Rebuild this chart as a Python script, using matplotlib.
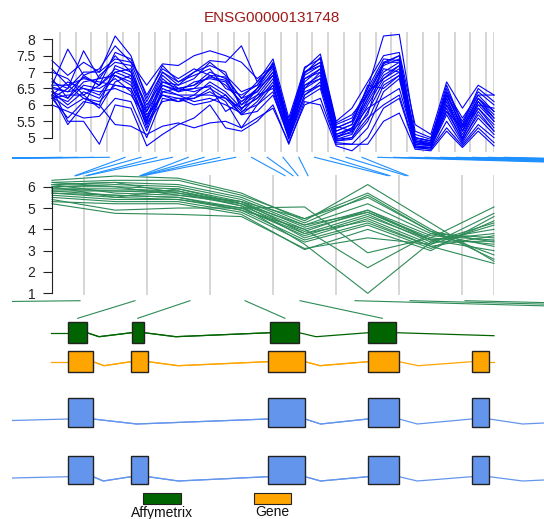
import matplotlib
matplotlib.use("Agg")
import matplotlib.pyplot as plt
from matplotlib.patches import Rectangle
import numpy as np

plt.rcParams['font.family'] = ['Liberation Sans', 'DejaVu Sans']

title = "ENSG00000131748"

# ---- top panel: probe-level intensities (20 samples x 29 probes)
probe_values = [
    [7.35, 6.9, 7.3, 7.0, 8.1, 7.5, 6.2, 7.2, 6.7, 7.0, 7.35, 7.3, 7.8, 6.7, 7.4, 5.6, 7.1, 7.55, 5.5, 5.9, 6.7, 7.5, 7.6, 5.4, 5.1, 6.7, 5.9, 6.6, 6.3],
    [6.6, 7.7, 6.9, 7.1, 7.8, 7.3, 6.6, 7.25, 7.2, 7.5, 7.65, 7.5, 7.3, 6.8, 7.2, 5.5, 7.0, 7.3, 5.4, 5.6, 6.5, 8.1, 8.15, 5.2, 5.0, 6.4, 5.6, 6.3, 6.3],
    [6.2, 6.5, 7.65, 6.8, 7.5, 7.0, 5.9, 7.0, 6.6, 6.8, 7.3, 6.9, 6.4, 6.6, 7.2, 5.4, 7.0, 7.3, 5.3, 5.5, 6.4, 7.3, 7.5, 5.0, 4.9, 6.5, 5.4, 6.3, 5.8],
    [6.3, 5.4, 6.0, 6.9, 7.3, 7.2, 5.8, 6.9, 6.5, 6.6, 7.0, 6.8, 6.2, 6.4, 7.0, 5.3, 6.9, 7.2, 5.2, 5.4, 6.3, 7.2, 7.4, 4.95, 4.85, 6.3, 5.3, 6.2, 5.7],
    [6.8, 6.2, 6.9, 6.6, 7.1, 6.9, 5.6, 6.8, 6.4, 6.5, 6.9, 6.6, 6.1, 6.5, 7.1, 5.25, 6.8, 7.0, 5.1, 5.3, 6.2, 7.0, 7.3, 4.9, 4.8, 6.2, 5.2, 6.1, 5.6],
    [6.5, 6.4, 6.5, 6.3, 7.0, 6.8, 5.5, 6.6, 6.4, 6.7, 6.8, 6.7, 6.0, 6.3, 6.9, 5.2, 6.7, 7.1, 5.0, 5.2, 6.1, 6.9, 7.2, 4.85, 4.8, 6.1, 5.1, 6.0, 5.5],
    [6.4, 6.0, 6.4, 6.2, 6.9, 6.7, 5.3, 6.5, 6.3, 6.3, 6.7, 6.4, 5.9, 6.2, 6.8, 5.1, 6.6, 6.9, 4.95, 5.1, 6.0, 6.8, 7.1, 4.8, 4.75, 6.0, 5.0, 5.9, 5.3],
    [6.6, 6.6, 6.8, 6.7, 6.6, 6.5, 5.4, 6.4, 6.5, 6.4, 6.6, 6.3, 5.8, 6.0, 6.6, 5.0, 6.5, 6.8, 4.9, 5.0, 5.8, 6.7, 7.0, 4.75, 4.7, 5.9, 4.9, 5.8, 5.2],
    [6.2, 6.3, 6.3, 5.9, 6.7, 6.9, 5.7, 6.3, 6.2, 6.2, 6.5, 6.2, 5.7, 6.1, 6.7, 5.3, 6.4, 6.6, 5.2, 5.4, 6.6, 6.5, 6.9, 4.9, 4.85, 5.8, 5.3, 6.0, 5.9],
    [7.1, 6.6, 6.2, 6.0, 7.2, 7.0, 6.0, 6.7, 6.6, 7.0, 7.2, 7.0, 5.85, 6.5, 7.3, 5.35, 7.15, 7.4, 5.35, 5.2, 5.7, 7.3, 7.3, 5.0, 4.9, 6.3, 5.5, 6.4, 6.0],
    [6.3, 6.1, 6.6, 6.5, 6.8, 6.4, 5.2, 6.4, 6.3, 6.1, 6.2, 6.0, 5.75, 6.3, 6.5, 5.0, 6.3, 6.7, 4.9, 4.95, 5.5, 6.6, 6.9, 4.7, 4.7, 5.7, 4.85, 5.6, 5.1],
    [6.0, 5.8, 5.6, 5.65, 6.2, 6.1, 5.0, 6.2, 6.1, 6.2, 6.4, 6.1, 5.3, 6.0, 6.4, 4.95, 6.2, 6.5, 4.8, 4.8, 5.3, 6.4, 6.8, 4.7, 4.65, 5.5, 4.8, 5.4, 5.0],
    [6.2, 5.6, 6.1, 6.0, 5.4, 5.35, 5.1, 5.35, 5.45, 5.3, 5.45, 5.5, 5.3, 5.6, 5.9, 4.85, 6.0, 6.2, 4.85, 4.8, 4.8, 5.5, 5.75, 4.65, 4.6, 5.2, 4.7, 5.2, 4.75],
    [6.5, 5.5, 5.5, 4.8, 6.0, 5.9, 4.75, 5.1, 5.4, 5.6, 6.0, 5.3, 5.2, 5.5, 6.0, 4.8, 6.1, 6.0, 4.75, 4.6, 5.0, 5.9, 6.2, 4.7, 4.65, 5.3, 4.75, 5.3, 4.85],
    [6.7, 6.5, 7.0, 7.0, 7.4, 7.3, 6.1, 7.0, 6.7, 6.9, 7.1, 6.5, 6.3, 6.6, 7.25, 5.45, 6.95, 7.45, 5.45, 5.7, 6.3, 7.25, 7.5, 5.1, 4.95, 6.6, 5.4, 6.5, 6.1],
    [6.4, 6.2, 6.7, 6.8, 6.9, 6.6, 5.8, 6.6, 6.45, 6.5, 6.55, 5.8, 6.1, 6.4, 7.0, 5.15, 6.5, 7.0, 5.05, 5.15, 6.4, 6.8, 7.2, 4.8, 4.8, 6.2, 5.0, 6.1, 5.5],
    [6.3, 6.7, 6.5, 6.4, 6.5, 6.3, 5.6, 6.3, 6.1, 6.3, 6.3, 6.2, 5.9, 6.2, 6.6, 5.1, 6.6, 6.8, 5.0, 5.3, 5.9, 6.2, 6.5, 4.85, 4.75, 6.0, 5.2, 5.9, 5.4],
    [6.55, 6.4, 6.85, 6.6, 7.0, 7.1, 5.5, 6.7, 6.5, 6.6, 6.85, 6.75, 6.0, 6.5, 6.9, 5.2, 6.8, 7.1, 5.1, 5.25, 6.2, 7.1, 7.0, 4.9, 4.8, 6.4, 5.2, 6.2, 5.6],
    [7.0, 6.8, 6.3, 6.6, 7.6, 7.4, 6.3, 7.1, 6.8, 7.1, 6.9, 6.85, 6.2, 6.7, 7.15, 5.3, 7.0, 7.2, 5.3, 5.5, 6.5, 7.4, 7.35, 5.0, 4.9, 6.3, 5.35, 6.2, 5.8],
    [6.25, 5.9, 6.2, 6.1, 6.6, 6.5, 5.45, 6.1, 6.2, 6.0, 6.1, 6.3, 5.7, 5.8, 6.3, 5.05, 6.3, 6.6, 4.95, 5.0, 5.6, 6.0, 6.3, 4.75, 4.7, 5.8, 4.95, 5.7, 5.2],
]
top_ticks = [5, 5.5, 6, 6.5, 7, 7.5, 8]
top_ticklabels = ["5", "5.5", "6", "6.5", "7", "7.5", "8"]

# ---- middle panel: probeset-level values (20 samples x 8 probesets)
probeset_values = [
    [6.3, 6.5, 6.4, 5.7, 4.4, 6.1, 4.3, 2.5],
    [6.2, 6.3, 6.3, 5.6, 4.5, 5.7, 4.0, 2.6],
    [6.1, 6.2, 6.1, 5.5, 4.3, 5.6, 3.9, 2.8],
    [6.0, 6.1, 6.0, 5.4, 4.2, 5.2, 3.8, 3.2],
    [6.2, 6.0, 5.9, 5.3, 4.1, 4.9, 3.7, 3.5],
    [5.9, 5.9, 5.8, 5.2, 4.0, 4.8, 3.6, 3.3],
    [5.8, 5.8, 5.7, 5.1, 3.9, 4.9, 3.5, 3.8],
    [6.1, 5.7, 5.6, 5.3, 3.8, 4.7, 3.4, 3.45],
    [5.7, 5.6, 5.5, 5.0, 3.7, 4.6, 3.5, 4.0],
    [6.0, 5.5, 5.9, 5.2, 3.6, 4.5, 3.3, 4.2],
    [5.6, 5.4, 5.4, 4.9, 3.5, 4.3, 3.2, 3.7],
    [5.5, 5.3, 5.3, 4.8, 3.4, 4.2, 3.1, 4.4],
    [5.3, 5.2, 5.2, 4.7, 3.05, 4.0, 3.0, 4.6],
    [5.2, 4.75, 4.7, 4.6, 3.1, 3.6, 3.3, 4.75],
    [5.4, 4.9, 5.0, 5.0, 5.05, 2.9, 3.6, 5.05],
    [5.8, 5.6, 5.5, 4.9, 4.0, 2.2, 3.8, 3.6],
    [5.9, 5.8, 5.8, 5.1, 3.3, 1.0, 3.4, 4.3],
    [6.0, 6.0, 5.6, 5.2, 4.2, 4.8, 3.5, 3.0],
    [5.7, 5.5, 5.4, 5.0, 3.8, 4.4, 3.2, 2.4],
    [6.1, 6.2, 5.7, 5.3, 4.5, 5.5, 3.9, 3.4],
]
mid_ticks = [1, 2, 3, 4, 5, 6]

# ---- genomic positions (in track units) of probes / probesets
probe_genomic = [-1700, -1600, -1500, -1400, 75, 76, 86, 87, 140, 141, 142, 143,
                 285, 293, 298, 308, 388, 390, 406, 408,
                 1030, 1060, 1090, 1120, 1160, 1200, 1250, 1300, 1350]
probeset_genomic = [-1500, 77.7, 137.7, 285, 382.3, 1000, 1100, 1200]

# ---- gene models (exon start/end, intron apex positions)
affy_exons = [(68.3, 87), (131.7, 144), (270.3, 299), (368.3, 395.7)]
affy_apex = [99, 175.7, 316]
gene_exons = [(68.3, 93), (131, 148), (267.7, 305), (367.7, 399), (471.7, 489.3)]
gene_apex = [104, 178.3, 320, 418.3]
tx1_exons = [(68.3, 93), (267.7, 305), (367.7, 399), (471.7, 489.3)]
tx1_apex = [136.7, 320.7, 417.3]
tx2_exons = [(68.3, 93), (131, 148), (267.7, 305), (367.7, 399), (471.7, 489.3)]
tx2_apex = [103.3, 178.3, 320.7, 417.3]

legend_labels = ["Affymetrix", "Gene"]

# ================= drawing =================
W, H = 544, 519
fig = plt.figure(figsize=(W / 100, H / 100), dpi=100)

def px_axes(x0, x1, ytop, ybot):
    return fig.add_axes([x0 / W, 1 - ybot / H, (x1 - x0) / W, (ybot - ytop) / H])

GRID = '#CCCCCC'

def style_axis(ax, ticks, labels, lo, hi):
    for s in ['top', 'right', 'bottom']:
        ax.spines[s].set_visible(False)
    ax.spines['left'].set_bounds(lo, hi)
    ax.spines['left'].set_linewidth(0.8)
    ax.spines['left'].set_color('#222222')
    ax.set_xticks([])
    ax.set_yticks(ticks)
    ax.set_yticklabels(labels)
    ax.tick_params(axis='y', length=6.5, width=0.8, pad=5.5, labelsize=10,
                   color='#222222', labelcolor='#222222')
    ax.patch.set_alpha(0)

# top panel
ax1 = px_axes(52, 494, 32.3, 151.7)
n_probe = len(probe_values[0])
ax1.set_xlim(0, n_probe - 1)
ax1.set_ylim(4.573, 8.213)
gx = list(np.arange(n_probe - 1) + 0.5) + [n_probe - 1]
ax1.vlines(gx, 4.573, 8.213, color=GRID, lw=1.1, zorder=1)
for row in probe_values:
    ax1.plot(range(n_probe), row, color='#0000FF', lw=0.8, zorder=2, clip_on=False)
style_axis(ax1, top_ticks, top_ticklabels, 5, 8)

# middle panel
ax2 = px_axes(52, 494, 175, 295)
n_ps = len(probeset_values[0])
ax2.set_xlim(0, n_ps - 1)
ax2.set_ylim(0.92, 6.549)
gx2 = list(np.arange(n_ps - 1) + 0.5) + [n_ps - 1]
ax2.vlines(gx2, 0.92, 6.549, color=GRID, lw=1.1, zorder=1)
for row in probeset_values:
    ax2.plot(range(n_ps), row, color='#2E8B57', lw=0.8, zorder=2, clip_on=False)
style_axis(ax2, mid_ticks, [str(t) for t in mid_ticks], 1, 6)

# track / connector axes (track units = pixels)
axg = px_axes(12.3, 544, 150, 519)
axg.set_xlim(12.3, 544)
axg.set_ylim(519, 150)
axg.axis('off')

# probe connectors
c_top, c_bot = 157.3, 175.7
dx = 442 / (n_probe - 1)
for i, g in enumerate(probe_genomic):
    axg.plot([62 + dx * i, g], [c_top, c_bot], color='#1E90FF', lw=0.8)
# probeset connectors
m_top, m_bot = 300.7, 318.3
for j, g in enumerate(probeset_genomic):
    axg.plot([80 + 55 * j, g], [m_top, m_bot], color='#2E8B57', lw=0.8)

def draw_track(exons, apex, ybox, yline, yapex, color, linecolor, start, end, tail=None):
    xs, ys = [start[0]], [start[1]]
    for k, (a, b) in enumerate(exons):
        xs.append(a); ys.append(yline)
        if k < len(exons) - 1:
            axg.plot(xs, ys, color=linecolor, lw=0.9, zorder=2)
            xs, ys = [b, apex[k]], [yline, yapex]
    xs = [exons[-1][1]]
    ys = [yline]
    if tail is not None:
        xs.append(tail); ys.append(yapex)
    xs.append(end[0]); ys.append(end[1])
    axg.plot(xs, ys, color=linecolor, lw=0.9, zorder=2)
    # redraw intron apexes fully
    for k in range(len(exons) - 1):
        axg.plot([exons[k][1], apex[k], exons[k + 1][0]], [yline, yapex, yline],
                 color=linecolor, lw=0.9, zorder=2)
    for a, b in exons:
        axg.add_patch(Rectangle((a, ybox[0]), b - a, ybox[1] - ybox[0],
                                facecolor=color, edgecolor='#222222', lw=1.0, zorder=3))

draw_track(affy_exons, affy_apex, (322.3, 343.3), 332.7, 336.7, '#006400', '#006400',
           (51, 332.7), (494, 335.7))
draw_track(gene_exons, gene_apex, (350.7, 372.3), 361.7, 365.7, '#FFA500', '#FFA500',
           (51, 361.7), (494, 361.7))
draw_track(tx1_exons, tx1_apex, (398.3, 427.3), 419.0, 424.0, '#6495ED', '#6495ED',
           (12.3, 420.5), (544, 423.0), tail=522.7)
draw_track(tx2_exons, tx2_apex, (455.7, 484.3), 476.7, 481.0, '#6495ED', '#6495ED',
           (12.3, 478.0), (544, 480.0), tail=522.7)

# legend
leg_colors = ['#006400', '#FFA500']
leg_x = [(143.3, 180.7), (254.3, 291)]
for lab, col, (a, b) in zip(legend_labels, leg_colors, leg_x):
    axg.add_patch(Rectangle((a, 493.3), b - a, 11, facecolor=col,
                            edgecolor='#222222', lw=0.8, zorder=3))
    axg.text((a + b) / 2, 505.5, lab, ha='center', va='top', fontsize=10,
             color='#111111', clip_on=False)

fig.text(0.5, 1 - 18.5 / H, title, ha='center', va='center', fontsize=11, color='#A01A1A')

fig.savefig('out.png', dpi=100)
